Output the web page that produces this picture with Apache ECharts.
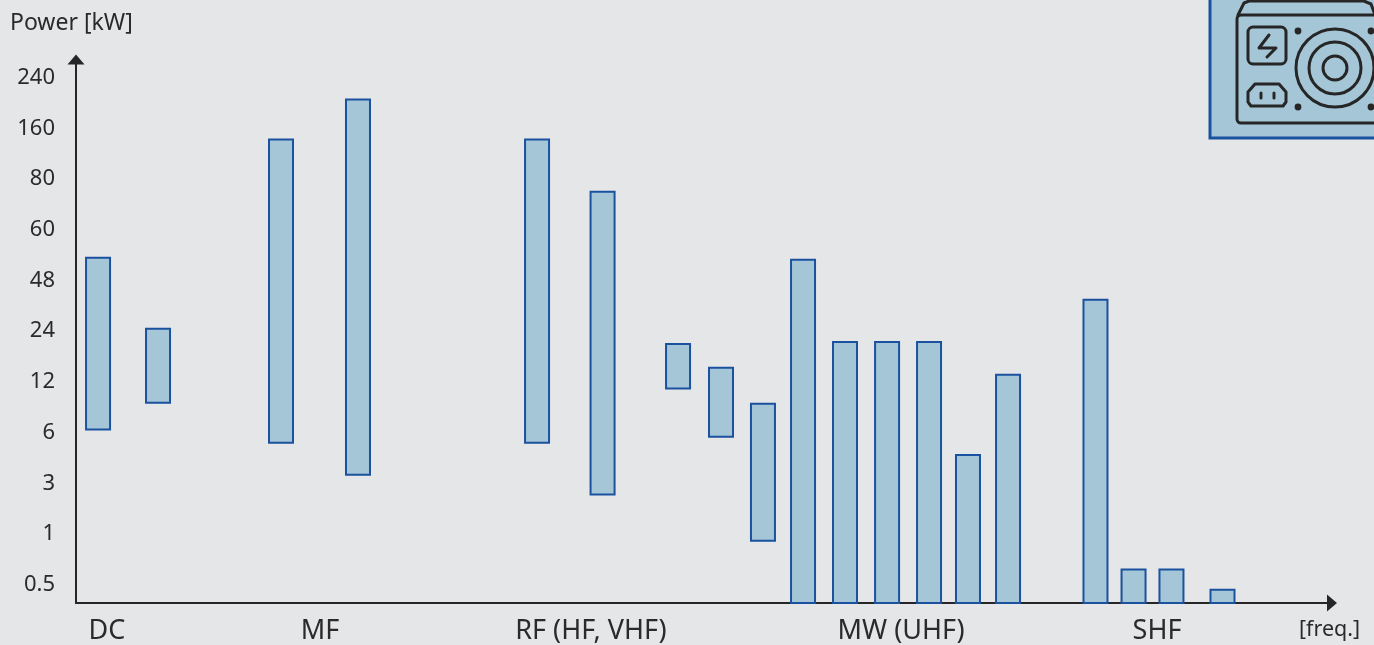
<!DOCTYPE html>
<html>
<head>
<meta charset="utf-8">
<title>Power by frequency</title>
<script src="https://cdn.jsdelivr.net/npm/echarts@6/dist/echarts.min.js"></script>
<style>
html, body { margin: 0; padding: 0; background: #e5e6e8; overflow: hidden; }
#chart { width: 1374px; height: 645px; }
</style>
</head>
<body>
<div id="chart"></div>
<script>
// the power axis is ordinal (evenly spaced labels), so bars are given in tick positions
const tickLabels = ["0.5", "1", "3", "6", "12", "24", "48", "60", "80", "160", "240"];
const tickPositions = [0, 1, 2, 3, 4, 5, 6, 7, 8, 9, 10];
const axisFloor = -0.4;

// frequency has no numeric scale in the source, 0-100 along the axis
const bandNames = ["DC", "MF", "RF (HF, VHF)", "MW (UHF)", "SHF"];
const bandPositions = [2.46, 19.37, 40.87, 65.48, 85.79];

const barFreq = [1.75, 6.51, 16.27, 22.38, 36.59, 41.79, 47.78, 51.19, 54.52, 57.7, 61.03, 64.37, 67.7, 70.79, 73.97, 80.91, 83.93, 86.94, 90.99];
const barLow = [3.02, 3.55, 2.76, 2.13, 2.76, 1.74, 3.83, 2.88, 0.83, -0.4, -0.4, -0.4, -0.4, -0.4, -0.4, -0.4, -0.4, -0.4, -0.4];
const barHigh = [6.41, 5.01, 8.74, 9.53, 8.74, 7.71, 4.71, 4.24, 3.53, 6.37, 4.75, 4.75, 4.75, 2.52, 4.1, 5.58, 0.26, 0.26, -0.14];

const FONT = '"Noto Sans", sans-serif';
const TEXT = "#2b2a2b";
const BLUE = "#1a52a0";
const FILL = "#a5c6d7";
const INK = "#262626";

let myChart = echarts.init(document.getElementById("chart"));

function iconStroke(shape, type) {
    return {
        type: type,
        shape: shape,
        style: { fill: "none", stroke: INK, lineWidth: 3, lineJoin: "round", lineCap: "round" },
    };
}

function iconDot(cx, cy) {
    return { type: "circle", shape: { cx: cx, cy: cy, r: 3.4 }, style: { fill: INK } };
}

let option = {
    backgroundColor: "#e5e6e8",
    animation: false,
    grid: { left: 76, right: 42, top: 59.5, bottom: 42 },
    xAxis: {
        type: "value",
        min: 0,
        max: 99.68,
        splitLine: { show: false },
        axisTick: { show: false },
        axisLine: {
            onZero: false,
            symbol: ["none", "triangle"],
            symbolSize: [17, 10],
            lineStyle: { color: INK, width: 2 },
        },
        axisLabel: {
            customValues: bandPositions,
            formatter: function (value) {
                return bandNames[bandPositions.indexOf(value)];
            },
            color: TEXT,
            fontFamily: FONT,
            fontSize: 27,
            margin: 15,
            showMinLabel: true,
            showMaxLabel: true,
        },
    },
    yAxis: {
        type: "value",
        min: axisFloor,
        max: 10.32,
        splitLine: { show: false },
        axisTick: { show: false },
        axisLine: {
            show: true,
            onZero: false,
            symbol: ["none", "triangle"],
            symbolSize: [17, 10],
            lineStyle: { color: INK, width: 2 },
        },
        axisLabel: {
            customValues: tickPositions,
            formatter: function (value) {
                return "{t|" + tickLabels[value] + "}";
            },
            margin: 21,
            rich: {
                t: {
                    color: TEXT,
                    fontFamily: FONT,
                    fontSize: 22,
                    padding: [4, 0, 0, 0],
                },
            },
        },
    },
    series: [
        {
            type: "custom",
            clip: false,
            encode: { x: 0, y: [1, 2] },
            data: barFreq.map(function (f, i) {
                return [f, barLow[i], barHigh[i]];
            }),
            renderItem: function (params, api) {
                let low = api.coord([api.value(0), api.value(1)]);
                let high = api.coord([api.value(0), api.value(2)]);
                return {
                    type: "rect",
                    shape: { x: low[0] - 12, y: high[1], width: 24, height: low[1] - high[1] },
                    style: { fill: FILL, stroke: BLUE, lineWidth: 2 },
                };
            },
        },
    ],
    graphic: [
        {
            type: "text",
            left: 10,
            top: 12,
            style: { text: "Power [kW]", fill: TEXT, font: "23px " + FONT },
        },
        {
            type: "text",
            left: 1299,
            top: 619,
            style: { text: "[freq.]", fill: TEXT, font: "21.5px " + FONT },
        },
        {
            // power supply icon, top right, runs off the page
            type: "group",
            x: 0,
            y: 0,
            children: [
                {
                    type: "rect",
                    shape: { x: 1210, y: -6, width: 176, height: 144 },
                    style: { fill: FILL, stroke: BLUE, lineWidth: 3 },
                },
                iconStroke({ x: 1237, y: 15, width: 180, height: 108, r: 4 }, "rect"),
                iconStroke({ points: [[1238, 15], [1244, 3], [1249, 1], [1364, 1], [1371, 4], [1375, 15]] }, "polyline"),
                iconStroke({ x: 1248, y: 27, width: 38, height: 37, r: 5 }, "rect"),
                iconStroke({ points: [[1269, 35], [1259, 48], [1276, 48], [1267, 57]] }, "polyline"),
                iconStroke({ points: [[1248, 102], [1248, 92], [1255, 84], [1279, 84], [1286, 92], [1286, 102], [1283, 106], [1251, 106], [1248, 102]] }, "polyline"),
                iconStroke({ x1: 1261, y1: 93, x2: 1261, y2: 98 }, "line"),
                iconStroke({ x1: 1274, y1: 93, x2: 1274, y2: 98 }, "line"),
                iconStroke({ cx: 1335, cy: 68, r: 39 }, "circle"),
                iconStroke({ cx: 1335, cy: 68, r: 26 }, "circle"),
                iconStroke({ cx: 1335, cy: 68, r: 12 }, "circle"),
                iconDot(1298, 31),
                iconDot(1298, 107),
                iconDot(1371, 31),
                iconDot(1371, 107),
            ],
        },
    ],
};

myChart.setOption(option);
</script>
</body>
</html>
